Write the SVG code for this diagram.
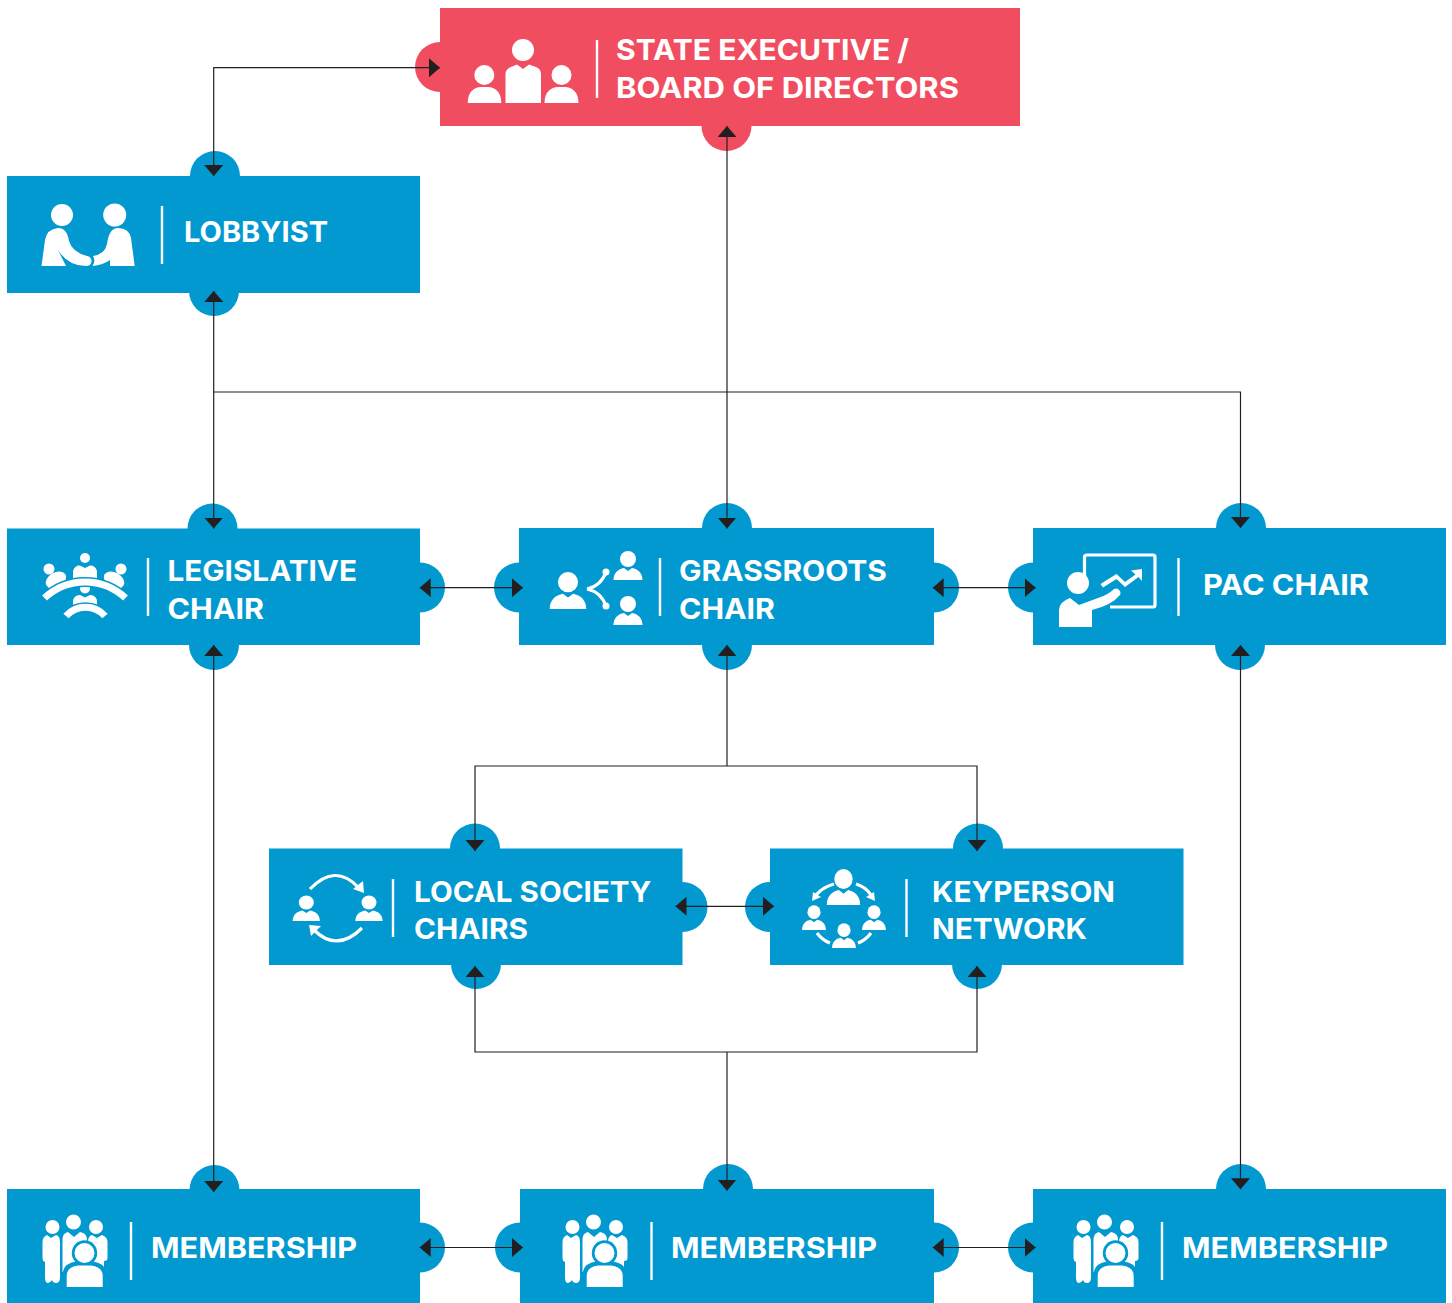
<svg xmlns="http://www.w3.org/2000/svg" width="1452" height="1303" viewBox="0 0 1452 1303">
<style>
.bx{fill:#0299d0}.rd{fill:#f04e60}
.ws{fill:none;stroke:#fff;stroke-width:3.200;stroke-linecap:butt}
.sep{stroke:#fff;stroke-width:2.400;fill:none}
.t{font-family:Inter,"Liberation Sans",sans-serif;font-weight:700;font-size:29px;fill:#fff}
.c{fill:none;stroke:#231f20;stroke-width:1.200}
</style>
<defs>
<marker id="ah" markerUnits="userSpaceOnUse" markerWidth="12" markerHeight="20" refX="11" refY="9.500" orient="auto-start-reverse"><path d="M0 0L11 9.500L0 19Z" fill="#231f20"/></marker>
<g id="bust"><circle cx="0" cy="-21" r="8"/><path d="M-14.500 0C-14.500 -7 -10 -11 -4 -12L0 -9L4 -12C10 -11 14.500 -7 14.500 0Z"/></g>
<g id="people" fill="#fff">
<circle cx="52.500" cy="1227" r="7"/><circle cx="73.500" cy="1222" r="7.500"/><circle cx="96" cy="1227" r="7"/>
<path d="M47 1235L51 1238L56 1235Q60 1236 60 1242V1277Q60 1283 56 1283Q53 1283 52 1280Q50 1283 48 1283Q45 1283 45 1277V1262Q42.500 1261 42.500 1258V1242Q42.500 1237 47 1235Z"/>
<path d="M102 1235L97 1238L92 1235Q88 1236 88 1242V1270H104V1261Q107.500 1261 107.500 1258V1242Q107.500 1237 102 1235Z"/>
<path d="M68 1232L74 1237L80 1232Q87 1233 87 1240V1277H64V1272H62.500V1240Q62.500 1233 68 1232Z"/>
<path d="M62.500 1287V1276Q62.500 1263 76 1261.500H93Q106.500 1263 106.500 1276V1287Z" fill="#0299d0"/>
<circle cx="84.500" cy="1253" r="12.700" fill="#0299d0"/><circle cx="84.500" cy="1253" r="10"/>
<path d="M66.700 1287V1276Q66.700 1267 78 1265.500H91Q102.700 1267 102.700 1276V1287Z"/>
</g>
</defs>

<g id="state">
<circle class="rd" cx="440" cy="67" r="25"/><circle class="rd" cx="726.500" cy="126" r="25"/>
<rect class="rd" x="440" y="8" width="580" height="118"/>
<g fill="#fff">
<circle cx="484.300" cy="75" r="10"/><path d="M467.700 103C467.700 92 474 87 481 87H488C495 87 501.300 92 501.300 103Z"/>
<circle cx="523" cy="50" r="11"/><path d="M505.500 103V74Q505.500 69 511 67L517 64.500L523 69L529 64.500L536 67Q541 69 541 74V103Z"/>
<circle cx="561.500" cy="75" r="10"/><path d="M544.500 103C544.500 92 551 87 558 87H565C572 87 578.500 92 578.500 103Z"/>
</g>
<path class="sep" d="M597 40V98"/>
<text class="t" x="616" y="60" textLength="293" lengthAdjust="spacingAndGlyphs">STATE EXECUTIVE /</text>
<text class="t" x="616" y="98" textLength="343" lengthAdjust="spacingAndGlyphs">BOARD OF DIRECTORS</text>
</g>

<g id="lobbyist">
<circle class="bx" cx="215" cy="176" r="25"/><circle class="bx" cx="214" cy="291" r="25"/>
<rect class="bx" x="7" y="176" width="413" height="117"/>
<g fill="#fff">
<circle cx="62" cy="215" r="11"/><circle cx="114.700" cy="215" r="11.500"/>
<path d="M41.500 266L45 240Q47 229 58 228Q67 228 69 241Q72 252 87 256A4.800 4.800 0 0 1 86 266Q68 266 58 250L66 266Z"/>
<path d="M134.700 266L131 238Q129 228 118 228Q109 228 107 244Q105 254 93 256Q96 261 92.500 266Q103 265 110 260V266Z"/>
</g>
<path class="sep" d="M162 206V264"/>
<text class="t" x="184" y="242" textLength="144" lengthAdjust="spacingAndGlyphs">LOBBYIST</text>
</g>

<g id="legislative-chair">
<circle class="bx" cx="212.500" cy="528.500" r="25"/><circle class="bx" cx="214" cy="645" r="25"/><circle class="bx" cx="420" cy="587.500" r="25"/>
<rect class="bx" x="7" y="528.500" width="413" height="116.500"/>
<g fill="#fff">
<circle cx="85" cy="558" r="5"/><circle cx="49" cy="569" r="5.500"/><circle cx="121" cy="569" r="5.500"/><circle cx="85" cy="588.500" r="5"/>
<path d="M73 580V571Q75 565 80 565.500L85 568L90 565.500Q95 565 97 571V580Z"/>
<ellipse cx="56" cy="580" rx="11" ry="7.500" transform="rotate(-30 56 580)"/>
<ellipse cx="114" cy="580" rx="11" ry="7.500" transform="rotate(30 114 580)"/>
<path d="M73 606V600Q75 595 80 595L85 597.500L90 595Q95 595 97 600V606Z"/>
</g>
<g fill="none" stroke="#0299d0" stroke-width="10">
<path d="M44.500 598A59 59 0 0 1 125.500 598"/><path d="M66 616A26 26 0 0 1 105 616"/>
</g>
<g fill="none" stroke="#fff" stroke-width="7">
<path d="M44.500 598A59 59 0 0 1 125.500 598"/><path d="M66 616A26 26 0 0 1 105 616"/>
</g>
<path class="sep" d="M148 558V616"/>
<text class="t" x="167.500" y="581" textLength="189.500" lengthAdjust="spacingAndGlyphs">LEGISLATIVE</text>
<text class="t" x="167.500" y="619" textLength="96.500" lengthAdjust="spacingAndGlyphs">CHAIR</text>
</g>

<g id="grassroots-chair">
<circle class="bx" cx="519" cy="587.500" r="25"/><circle class="bx" cx="727" cy="528" r="25"/><circle class="bx" cx="727" cy="645" r="25"/><circle class="bx" cx="934" cy="587.500" r="25"/>
<rect class="bx" x="519" y="528" width="415" height="117"/>
<g fill="#fff">
<use href="#bust" transform="translate(568 609) scale(1.260 1.280)"/>
<use href="#bust" transform="translate(628 580)"/>
<use href="#bust" transform="translate(628 625)"/>
<circle cx="606" cy="572" r="3.500"/><circle cx="606" cy="606" r="3.500"/>
</g>
<path class="ws" d="M587 589Q601 586 606 572M587 589Q601 592 606 606"/>
<path class="sep" d="M660 558V616"/>
<text class="t" x="679" y="581" textLength="208" lengthAdjust="spacingAndGlyphs">GRASSROOTS</text>
<text class="t" x="679" y="619" textLength="96" lengthAdjust="spacingAndGlyphs">CHAIR</text>
</g>

<g id="pac-chair">
<circle class="bx" cx="1033" cy="587.500" r="25"/><circle class="bx" cx="1241" cy="528" r="25"/><circle class="bx" cx="1240" cy="645" r="25"/>
<rect class="bx" x="1033" y="528" width="413" height="117"/>
<path d="M1084.500 577V557Q1084.500 555 1087 555H1153Q1155 555 1155 557V605Q1155 607 1153 607H1110" fill="none" stroke="#fff" stroke-width="3.200"/>
<g fill="#fff">
<circle cx="1078" cy="583" r="11"/>
<path d="M1059 627V610Q1059 602 1070 598L1079 605L1098 598Q1108 595 1114 589A4.500 4.500 0 0 1 1120 595Q1112 605 1092 610V627Z"/>
<path d="M1142 569L1142 581L1138.500 577L1125 587L1116.500 579L1103 587.500L1100.500 584L1116.500 574L1125 582L1135.500 574.500L1131 570.500Z"/>
</g>
<path class="sep" d="M1178.500 558V616"/>
<text class="t" x="1203" y="595" textLength="166" lengthAdjust="spacingAndGlyphs">PAC CHAIR</text>
</g>

<g id="local-society-chairs">
<circle class="bx" cx="475" cy="848.500" r="25"/><circle class="bx" cx="476" cy="964" r="25"/><circle class="bx" cx="682.500" cy="907" r="25"/>
<rect class="bx" x="269" y="848.500" width="413.500" height="116.500"/>
<g fill="#fff">
<use href="#bust" transform="translate(306.300 921) scale(.94 .88)"/>
<use href="#bust" transform="translate(369 921) scale(.94 .88)"/>
<path d="M364 893L353 889L363 881Z"/><path d="M309 925L321 926L311 936Z"/>
</g>
<path class="ws" d="M310 889Q335 863 358 887M362 928Q337 953 314 930"/>
<path class="sep" d="M393 879V937"/>
<text class="t" x="414" y="902" textLength="237.500" lengthAdjust="spacingAndGlyphs">LOCAL SOCIETY</text>
<text class="t" x="414" y="939" textLength="114" lengthAdjust="spacingAndGlyphs">CHAIRS</text>
</g>

<g id="keyperson-network">
<circle class="bx" cx="770" cy="907" r="25"/><circle class="bx" cx="978" cy="848.500" r="25"/><circle class="bx" cx="977" cy="964" r="25"/>
<rect class="bx" x="770" y="848.500" width="413.500" height="116.500"/>
<g fill="#fff">
<use href="#bust" transform="translate(843.500 905) scale(1.150 1.240)"/>
<use href="#bust" transform="translate(814 930) scale(.82 .85)"/>
<use href="#bust" transform="translate(874 930) scale(.82 .85)"/>
<use href="#bust" transform="translate(844 948) scale(.82 .85)"/>
<path d="M812 901L813 892L821 897Z"/><path d="M875 901L874 892L866 897Z"/>
</g>
<path class="ws" d="M834 884Q823 887 816 895M856 884Q866 887 871 895M817 933Q822 940 830 943M871 933Q866 940 858 943"/>
<path class="sep" d="M906.500 879V937"/>
<text class="t" x="932" y="902" textLength="183" lengthAdjust="spacingAndGlyphs">KEYPERSON</text>
<text class="t" x="932" y="939" textLength="155" lengthAdjust="spacingAndGlyphs">NETWORK</text>
</g>

<g id="membership-1">
<circle class="bx" cx="214.500" cy="1190" r="25"/><circle class="bx" cx="420" cy="1247.500" r="25"/>
<rect class="bx" x="7" y="1189" width="413" height="114"/>
<use href="#people"/>
<path class="sep" d="M131 1222V1280"/>
<text class="t" x="151" y="1258" textLength="206" lengthAdjust="spacingAndGlyphs">MEMBERSHIP</text>
</g>

<g id="membership-2">
<circle class="bx" cx="520" cy="1247.500" r="25"/><circle class="bx" cx="728" cy="1189" r="25"/><circle class="bx" cx="934" cy="1247.500" r="25"/>
<rect class="bx" x="520" y="1189" width="414" height="114"/>
<use href="#people" x="520"/>
<path class="sep" d="M651.500 1222V1280"/>
<text class="t" x="671" y="1258" textLength="206" lengthAdjust="spacingAndGlyphs">MEMBERSHIP</text>
</g>

<g id="membership-3">
<circle class="bx" cx="1033" cy="1247.500" r="25"/><circle class="bx" cx="1241" cy="1189" r="25"/>
<rect class="bx" x="1033" y="1189" width="413" height="114"/>
<use href="#people" x="1031"/>
<path class="sep" d="M1162 1222V1280"/>
<text class="t" x="1182" y="1258" textLength="206" lengthAdjust="spacingAndGlyphs">MEMBERSHIP</text>
</g>

<g id="connectors">
<path class="c" d="M213.700 176V67.700H440" marker-start="url(#ah)" marker-end="url(#ah)"/>
<path class="c" d="M213.700 291V528.500" marker-start="url(#ah)" marker-end="url(#ah)"/>
<path class="c" d="M213.700 645V1192" marker-start="url(#ah)" marker-end="url(#ah)"/>
<path class="c" d="M213.700 392H1240.500V528" marker-end="url(#ah)"/>
<path class="c" d="M727 126V528.500" marker-start="url(#ah)" marker-end="url(#ah)"/>
<path class="c" d="M419.700 587.700H523" marker-start="url(#ah)" marker-end="url(#ah)"/>
<path class="c" d="M932.700 587.700H1035.700" marker-start="url(#ah)" marker-end="url(#ah)"/>
<path class="c" d="M1240.500 645V1189.300" marker-start="url(#ah)" marker-end="url(#ah)"/>
<path class="c" d="M727 645V766" marker-start="url(#ah)"/>
<path class="c" d="M475 851V766H977V851" marker-start="url(#ah)" marker-end="url(#ah)"/>
<path class="c" d="M675.500 906.300H774" marker-start="url(#ah)" marker-end="url(#ah)"/>
<path class="c" d="M475 966V1052H977V966" marker-start="url(#ah)" marker-end="url(#ah)"/>
<path class="c" d="M727 1052V1190.700" marker-end="url(#ah)"/>
<path class="c" d="M419.700 1247.500H523" marker-start="url(#ah)" marker-end="url(#ah)"/>
<path class="c" d="M932.700 1247.500H1035.700" marker-start="url(#ah)" marker-end="url(#ah)"/>
</g>
</svg>
